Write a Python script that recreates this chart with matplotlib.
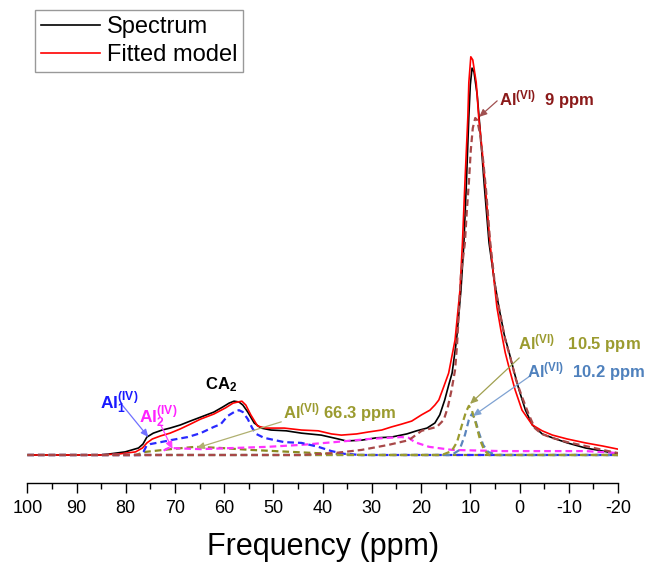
import matplotlib.pyplot as plt

plt.rcParams['font.family'] = ['Liberation Sans', 'DejaVu Sans']
plt.rcParams['mathtext.fontset'] = 'custom'
plt.rcParams['mathtext.rm'] = 'Liberation Sans'
plt.rcParams['mathtext.bf'] = 'Liberation Sans:bold'
plt.rcParams['mathtext.it'] = 'Liberation Sans:italic'

# Measured spectrum
spec_ppm = [100, 85.2, 83.1, 80.1, 77.4, 76.5, 75.7, 74.4, 72.6, 71.0, 68.9, 66.9, 64.8,
            62.1, 60.3, 59.0, 58.0, 57.0, 56.2, 55.2, 53.9, 52.5, 50.5, 47.4, 44.3, 40.3,
            36.8, 35.2, 32.1, 29.1, 26.0, 22.9, 20.9, 18.8, 17.2, 16.2, 15.2, 14.4, 13.7,
            12.8, 11.9, 11.3, 10.8, 10.3, 10.0, 9.65, 9.25, 8.6, 8.0, 7.2, 6.2, 5.2, 4.2,
            3.1, 2.1, 1.1, 0.1, -1.2, -2.6, -4.6, -6.7, -9.7, -13.4, -16.9, -20]
spec_int = [0.0, 0.0, 0.003, 0.008, 0.018, 0.028, 0.046, 0.056, 0.064, 0.069, 0.077, 0.087,
            0.097, 0.110, 0.123, 0.133, 0.138, 0.136, 0.128, 0.110, 0.082, 0.069, 0.064,
            0.062, 0.056, 0.051, 0.041, 0.036, 0.038, 0.044, 0.046, 0.054, 0.062, 0.069,
            0.082, 0.103, 0.141, 0.179, 0.210, 0.295, 0.423, 0.544, 0.697, 0.867, 0.949,
            0.992, 0.982, 0.923, 0.833, 0.697, 0.544, 0.454, 0.379, 0.308, 0.262, 0.213,
            0.167, 0.115, 0.077, 0.054, 0.044, 0.031, 0.018, 0.010, 0.003]

# Fitted model
fit_ppm = [100, 85.2, 81.1, 78.0, 76.6, 75.7, 74.6, 72.9, 71.0, 68.9, 66.9, 64.8, 62.1,
           59.7, 58.2, 57.2, 56.4, 55.6, 54.6, 53.2, 51.5, 47.8, 44.3, 40.9, 38.2, 36.2,
           33.1, 30.7, 28.0, 26.0, 24.0, 21.9, 19.9, 18.2, 17.2, 16.4, 15.4, 14.4, 13.1,
           12.1, 11.6, 11.1, 10.5, 10.3, 9.9, 9.5, 8.8, 8.3, 7.6, 7.0, 6.0, 5.2, 4.6, 3.8,
           2.9, 1.9, 0.9, -0.5, -2.6, -4.6, -6.7, -9.7, -13.4, -16.9, -20]
fit_int = [0.0, 0.0, 0.003, 0.008, 0.018, 0.031, 0.041, 0.049, 0.056, 0.067, 0.079, 0.092,
           0.105, 0.121, 0.133, 0.136, 0.138, 0.128, 0.103, 0.074, 0.069, 0.069, 0.064,
           0.062, 0.054, 0.051, 0.054, 0.059, 0.064, 0.072, 0.079, 0.087, 0.103, 0.115,
           0.128, 0.141, 0.175, 0.210, 0.295, 0.423, 0.544, 0.697, 0.867, 0.955, 1.021,
           1.013, 0.955, 0.867, 0.782, 0.697, 0.544, 0.449, 0.379, 0.321, 0.262, 0.213,
           0.167, 0.115, 0.077, 0.062, 0.051, 0.041, 0.031, 0.023, 0.015]

# Components
al6_9_ppm = [100, 44.3, 37.6, 32.1, 26.6, 22.5, 19.9, 16.8, 15.4, 14.6, 13.8, 13.1, 12.7,
             11.9, 11.1, 10.7, 10.3, 9.9, 9.5, 9.0, 8.6, 8.0, 7.4, 6.8, 6.0, 5.0, 4.1, 2.9,
             1.9, 0.7, -0.5, -1.9, -3.1, -4.5, -6.6, -9.7, -13.4, -16.9, -20]
al6_9_int = [0.0, 0.0, 0.005, 0.013, 0.026, 0.038, 0.062, 0.072, 0.090, 0.121, 0.167,
             0.218, 0.282, 0.462, 0.544, 0.628, 0.697, 0.782, 0.838, 0.864, 0.859, 0.821,
             0.756, 0.679, 0.551, 0.436, 0.372, 0.295, 0.251, 0.192, 0.149, 0.103, 0.069,
             0.054, 0.044, 0.033, 0.023, 0.013, 0.005]

al6_105_ppm = [100, 15.8, 13.8, 12.7, 11.7, 10.9, 10.3, 9.7, 8.8, 8.0, 7.2, 6.2, -20]
al6_105_int = [0.0, 0.0, 0.010, 0.033, 0.077, 0.110, 0.126, 0.115, 0.077, 0.038, 0.013, 0.0, 0.0]

al6_102_ppm = [100, 13.8, 12.2, 11.1, 10.3, 9.7, 9.1, 8.3, 7.4, 6.4, 4.6, -20]
al6_102_int = [0.0, 0.0, 0.013, 0.051, 0.090, 0.105, 0.095, 0.059, 0.026, 0.008, 0.0, 0.0]

al6_663_ppm = [100, 78.0, 76.0, 70.9, 65.8, 60.7, 54.6, 46.4, 38.2, 32.1, -20]
al6_663_int = [0.0, 0.0, 0.008, 0.015, 0.021, 0.018, 0.013, 0.008, 0.003, 0.0, 0.0]

al1_ppm = [100, 77.0, 76.4, 75.8, 75.0, 72.9, 70.9, 67.4, 64.8, 62.1, 60.7, 59.3, 58.0,
           57.0, 56.2, 55.2, 54.3, 53.5, 51.9, 47.8, 44.3, 40.9, 38.2, 35.6, 32.1, -20]
al1_int = [0.0, 0.0, 0.008, 0.023, 0.028, 0.033, 0.038, 0.046, 0.056, 0.072, 0.079, 0.100,
           0.110, 0.115, 0.110, 0.092, 0.069, 0.054, 0.044, 0.033, 0.031, 0.021, 0.010,
           0.003, 0.0, 0.0]

al2_ppm = [100, 72.9, 72.1, 71.3, 64.8, 58.0, 51.1, 44.3, 37.6, 30.7, 26.6, 24.0, 22.5,
           21.3, 18.4, 13.7, 3.5, -13.4, -20]
al2_int = [0.0, 0.0, 0.013, 0.018, 0.015, 0.018, 0.021, 0.026, 0.033, 0.041, 0.044, 0.046,
           0.044, 0.033, 0.021, 0.013, 0.010, 0.010, 0.005]

olive = '#9b9b2f'
dash = (0, (3, 1.8))

fig = plt.figure(figsize=(6.51, 5.68), dpi=100)
ax = fig.add_axes([0.0419, 0.1491, 0.9074, 0.8333])

ax.plot(spec_ppm, spec_int, color='black', lw=1.2, label='Spectrum')
ax.plot(fit_ppm, fit_int, color='red', lw=1.2, label='Fitted model')

ax.plot(al6_663_ppm, al6_663_int, color='#8a8a20', lw=1.6, ls=dash)
ax.plot(al2_ppm, al2_int, color='#ff33ff', lw=1.6, ls=dash)
ax.plot(al1_ppm, al1_int, color='#2a2aff', lw=1.6, ls=dash)
ax.plot(al6_102_ppm, al6_102_int, color='#5b85bd', lw=1.6, ls=dash)
ax.plot(al6_105_ppm, al6_105_int, color=olive, lw=1.6, ls=dash)
ax.plot(al6_9_ppm, al6_9_int, color='#a84848', lw=1.6, ls=dash)

# annotations
def arrow(tail, head, color):
    ax.annotate('', xy=head, xytext=tail,
                arrowprops=dict(arrowstyle='-|>,head_length=0.45,head_width=0.2',
                                color=color, lw=0.9, shrinkA=0, shrinkB=0))

arrow((4.55, 0.908), (8.2, 0.867), '#a05050')
arrow((0.06, 0.249), (10.06, 0.131), '#a0a050')
arrow((-2.18, 0.203), (9.45, 0.100), '#7fa2d2')
arrow((48.4, 0.085), (65.6, 0.018), '#b0b070')
arrow((80.7, 0.128), (75.4, 0.046), '#7070ff')
arrow((72.9, 0.077), (70.5, 0.015), '#ff40ff')

fs = 12
ax.text(4.14, 0.897, r'Al$^{\mathbf{(VI)}}$  9 ppm', color='#8b1a1a', fontsize=fs,
        fontweight='bold', va='baseline', ha='left')
ax.text(0.4, 0.272, r'Al$^{\mathbf{(VI)}}$   10.5 ppm', color=olive, fontsize=fs,
        fontweight='bold', va='baseline', ha='left')
ax.text(-1.6, 0.200, r'Al$^{\mathbf{(VI)}}$  10.2 ppm', color='#4f81bd', fontsize=fs,
        fontweight='bold', va='baseline', ha='left')
ax.text(48.0, 0.095, r'Al$^{\mathbf{(VI)}}$ 66.3 ppm', color=olive, fontsize=fs,
        fontweight='bold', va='baseline', ha='left')
ax.text(60.7, 0.169, r'CA$_{\mathbf{2}}$', color='black', fontsize=fs,
        fontweight='bold', va='baseline', ha='center')
ax.text(85.2, 0.118, r'Al$_{\mathbf{1}}^{\mathbf{(IV)}}$', color='#1a1aff', fontsize=12.5,
        fontweight='bold', va='baseline', ha='left')
ax.text(77.4, 0.082, r'Al$_{\mathbf{2}}^{\mathbf{(IV)}}$', color='#ff22ff', fontsize=12.5,
        fontweight='bold', va='baseline', ha='left')

ax.set_xlim(100, -20)
ax.set_ylim(-0.0726, 1.141)
ax.set_xticks(range(100, -21, -10))
ax.set_xticklabels([str(v) for v in range(100, -21, -10)])
ax.set_xticks(range(95, -20, -10), minor=True)
ax.tick_params(axis='x', which='major', direction='out', length=7, width=1, labelsize=13, pad=5)
ax.tick_params(axis='x', which='minor', direction='out', length=4, width=1)
ax.set_yticks([])
for s in ['left', 'right', 'top']:
    ax.spines[s].set_visible(False)
ax.spines['bottom'].set_linewidth(1.0)
ax.set_xlabel('Frequency (ppm)', fontsize=22, labelpad=11)

leg = ax.legend(loc='upper left', bbox_to_anchor=(0.013, 1.0), borderaxespad=0,
                fontsize=17, frameon=True, fancybox=False, handlelength=2.5,
                handletextpad=0.3, labelspacing=0.25, borderpad=0.25)
leg.get_frame().set_edgecolor('#808080')
leg.get_frame().set_linewidth(1.0)

fig.savefig('out.png', dpi=100)
